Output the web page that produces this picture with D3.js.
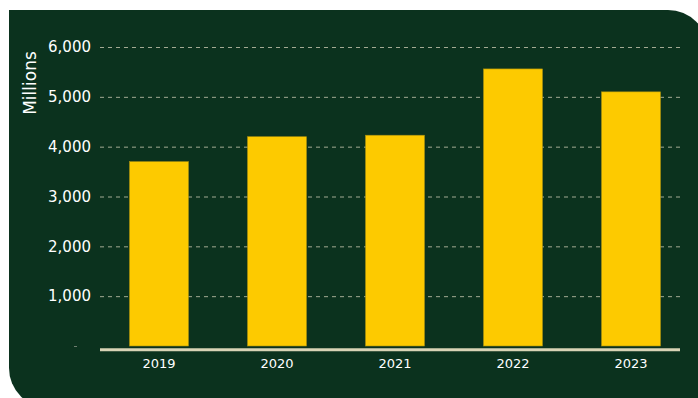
<!doctype html>
<html lang="en">
  <head>
    <meta charset="utf-8">
    <title>Bar chart</title>
    <script src="https://d3js.org/d3.v7.min.js"></script>
    <style>
      body { margin: 0; background: #ffffff; }
      svg text { font-family: "DejaVu Sans", "Open Sans", sans-serif; fill: #ffffff; }
    </style>
  </head>
  <body>
    <div id="chart"></div>
    <script>
      // data
      var years = ["2019", "2020", "2021", "2022", "2023"];
      var values = [3700, 4200, 4230, 5560, 5100];
      var yTicks = [1000, 2000, 3000, 4000, 5000, 6000];

      var W = 698, H = 398;

      var svg = d3.select("#chart")
        .append("svg")
          .attr("width", W)
          .attr("height", H);

      // panel: square top-left, rounded top-right and bottom-left
      var x0 = 9, y0 = 10, x1 = 708, y1 = 408, r = 40;
      svg.append("path")
        .attr("d", "M" + x0 + "," + y0 +
          " L" + (x1 - r) + "," + y0 +
          " A" + r + "," + r + " 0 0 1 " + x1 + "," + (y0 + r) +
          " L" + x1 + "," + y1 +
          " L" + (x0 + r) + "," + y1 +
          " A" + r + "," + r + " 0 0 1 " + x0 + "," + (y1 - r) + " Z")
        .style("fill", "#0b321e");

      var x = d3.scaleBand()
          .domain(years)
          .range([100, 690])
          .paddingInner(0.5)
          .paddingOuter(0.25);

      var y = d3.scaleLinear()
          .domain([0, 6000])
          .range([346, 47]);

      // gridlines + tick labels
      var yAxis = svg.append("g")
          .attr("transform", "translate(100,0)")
          .call(d3.axisLeft(y).tickValues(yTicks).tickSize(-580).tickPadding(9)
            .tickFormat(d3.format(",")));
      yAxis.select(".domain").remove();
      yAxis.selectAll(".tick line")
          .style("stroke", "#a3aa93")
          .style("stroke-width", 1)
          .style("stroke-dasharray", "4,4");
      yAxis.selectAll(".tick text")
          .style("font-size", "15px")
          .style("fill", "#ffffff");

      // small mark where the 0 label would be
      svg.append("line")
          .attr("x1", 74).attr("x2", 77)
          .attr("y1", y(0) + 0.5).attr("y2", y(0) + 0.5)
          .style("stroke", "#6f7f70")
          .style("stroke-width", 1);

      svg.append("text")
          .attr("transform", "translate(36,83) rotate(-90)")
          .attr("text-anchor", "middle")
          .style("font-size", "17px")
          .text("Millions");

      // bars
      svg.selectAll("rect.bar")
          .data(values)
          .enter()
          .append("rect")
            .attr("class", "bar")
            .attr("x", function(d, i) { return x(years[i]); })
            .attr("y", function(d) { return y(d); })
            .attr("width", x.bandwidth())
            .attr("height", function(d) { return y(0) - y(d); })
            .style("fill", "#fdca00")
            .style("stroke", "#a88f10")
            .style("stroke-width", 0.6);

      // baseline
      svg.append("line")
          .attr("x1", 100).attr("x2", 680)
          .attr("y1", 349.8).attr("y2", 349.8)
          .style("stroke", "#d9d4b6")
          .style("stroke-width", 3);

      // year labels
      svg.selectAll("text.year")
          .data(years)
          .enter()
          .append("text")
            .attr("class", "year")
            .attr("x", function(d) { return x(d) + x.bandwidth() / 2; })
            .attr("y", 368)
            .attr("text-anchor", "middle")
            .style("font-size", "13px")
            .text(function(d) { return d; });
    </script>
  </body>
</html>
